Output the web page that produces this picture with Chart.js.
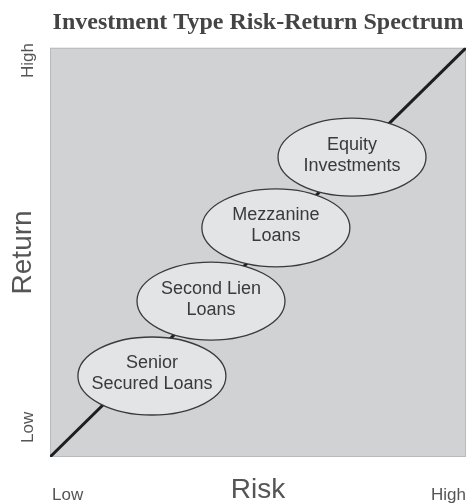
<!DOCTYPE html>
<html>
<head>
<meta charset="utf-8">
<script src="https://cdn.jsdelivr.net/npm/chart.js@4/dist/chart.umd.min.js"></script>
<style>
  html, body { margin: 0; padding: 0; background: #fff; }
  #wrap { width: 470px; height: 504px; }
</style>
</head>
<body>
<div id="wrap"><canvas id="chart" width="470" height="504"></canvas></div>
<script>
// -----------------------------
// Data
// -----------------------------
const riskLabels = ["Low", "High"];
const returnLabels = ["Low", "High"];
const spectrumRisk = [0, 100];
const spectrumReturn = [0, 100];

const investmentTypes = [
  ["Senior", "Secured Loans"],
  ["Second Lien", "Loans"],
  ["Mezzanine", "Loans"],
  ["Equity", "Investments"],
];
const typeRisk = [24.5, 38.7, 54.3, 72.6];
const typeReturn = [19.8, 38.1, 56.0, 73.3];

const SANS = "'Liberation Sans', Arial, sans-serif";

// plot background + Low/High end labels
const frame = {
  id: "frame",
  beforeDraw(chart) {
    const { ctx, chartArea: a } = chart;
    ctx.save();
    ctx.fillStyle = "#d1d2d4";
    ctx.fillRect(a.left, a.top, a.right - a.left, a.bottom - a.top);
    ctx.strokeStyle = "#b9babc";
    ctx.lineWidth = 1;
    ctx.strokeRect(a.left + 0.5, a.top + 0.5, a.right - a.left - 1, a.bottom - a.top - 1);
    ctx.restore();
  },
  afterDraw(chart) {
    const { ctx, chartArea: a } = chart;
    ctx.save();
    ctx.fillStyle = "#555";
    ctx.font = "17px " + SANS;
    ctx.textBaseline = "alphabetic";
    // x axis
    ctx.textAlign = "left";
    ctx.fillText(riskLabels[0], a.left + 2, 500);
    ctx.textAlign = "right";
    ctx.fillText(riskLabels[1], a.right, 500);
    // y axis (rotated)
    ctx.translate(33, 0);
    ctx.rotate(-Math.PI / 2);
    ctx.textAlign = "left";
    ctx.fillText(returnLabels[0], -443, 0);
    ctx.textAlign = "right";
    ctx.fillText(returnLabels[1], -43, 0);
    ctx.restore();
  },
};

// ellipses with labels, centred on the points of the "types" dataset
const ovals = {
  id: "ovals",
  afterDatasetsDraw(chart, args, opts) {
    const { ctx } = chart;
    const meta = chart.getDatasetMeta(1);
    ctx.save();
    meta.data.forEach((pt, i) => {
      ctx.beginPath();
      ctx.ellipse(pt.x, pt.y, opts.rx, opts.ry, 0, 0, Math.PI * 2);
      ctx.fillStyle = "#e3e4e5";
      ctx.fill();
      ctx.lineWidth = 1.3;
      ctx.strokeStyle = "#3a3a3a";
      ctx.stroke();

      ctx.fillStyle = "#3a3a3a";
      ctx.font = "18px " + SANS;
      ctx.textAlign = "center";
      ctx.textBaseline = "middle";
      const lines = investmentTypes[i];
      lines.forEach((t, j) => {
        ctx.fillText(t, pt.x, pt.y + (j - (lines.length - 1) / 2) * 21 - 2);
      });
    });
    ctx.restore();
  },
};

new Chart(document.getElementById("chart"), {
  type: "scatter",
  data: {
    datasets: [
      {
        type: "line",
        label: "Spectrum",
        data: spectrumRisk.map((x, i) => ({ x, y: spectrumReturn[i] })),
        borderColor: "#1e1e1e",
        borderWidth: 3,
        pointRadius: 0,
        fill: false,
      },
      {
        label: "Types",
        data: typeRisk.map((x, i) => ({ x, y: typeReturn[i] })),
        pointRadius: 0,
      },
    ],
  },
  options: {
    responsive: false,
    animation: false,
    layout: { padding: { left: 0, right: 4, top: 0, bottom: 0 } },
    plugins: {
      legend: { display: false },
      tooltip: { enabled: false },
      title: {
        display: true,
        fullSize: false,
        text: "Investment Type Risk-Return Spectrum",
        color: "#444",
        font: { family: "'Liberation Serif', 'Times New Roman', serif", size: 24, weight: "bold", lineHeight: 1.2 },
        padding: { top: 8, bottom: 11 },
      },
      ovals: { rx: 74, ry: 39 },
    },
    scales: {
      x: {
        type: "linear",
        min: 0,
        max: 100,
        grid: { display: false, drawTicks: false },
        border: { display: false },
        ticks: { display: false },
        title: {
          display: true,
          text: "Risk",
          color: "#555",
          font: { family: SANS, size: 28, lineHeight: 1 },
          padding: { top: 19, bottom: 0 },
        },
      },
      y: {
        type: "linear",
        min: 0,
        max: 100,
        grid: { display: false, drawTicks: false },
        border: { display: false },
        ticks: { display: false },
        title: {
          display: true,
          text: "Return",
          color: "#555",
          font: { family: SANS, size: 28, lineHeight: 1 },
          padding: { top: 9, bottom: 13 },
        },
      },
    },
  },
  plugins: [frame, ovals],
});
</script>
</body>
</html>
